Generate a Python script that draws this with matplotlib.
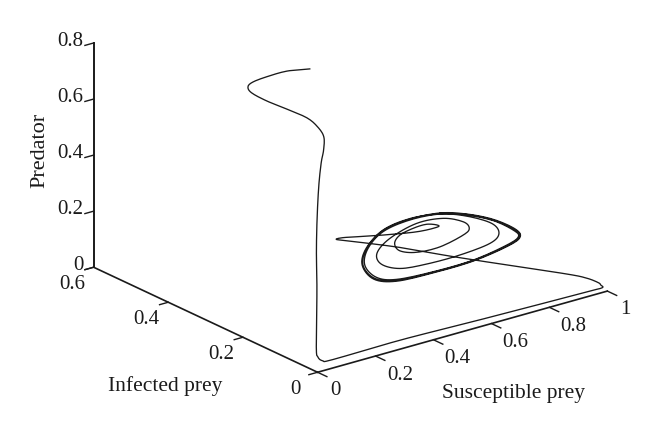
import numpy as np
import matplotlib
matplotlib.use('Agg')
import matplotlib.pyplot as plt
from mpl_toolkits.mplot3d import Axes3D, proj3d

plt.rcParams['font.family'] = ['Liberation Serif', 'DejaVu Serif']

# trajectory
susceptible = [.50, .43, .36, .31, .27, .25, .24, .22, .20, .17, .14, .12, .10, .08, .06, .045, .03, .015, .01,
               .018, .053, .284, .5145, .745, .93, .982, .9775, .969, .930, .861, .630, .457, .284, .1107, .065,
               .0865, .145, .226, .3415,
               .411, .414, .376, .330, .284, .266, .284, .3415, .422, .503, .5235, .503, .4336, .3415, .249, .205,
               .220, .284, .376, .491, .595, .626, .601, .5145, .422, .318, .226, .174, .163, .203, .272, .399,
               .537, .653, .693, .676, .607, .5145, .422, .318, .226, .168, .154, .194, .272, .399, .537, .657,
               .699, .682, .607, .5145, .422, .318, .226, .170, .157, .197, .272, .399, .537, .655, .697, .680,
               .607, .5145, .422]
infected = [.409, .416, .416, .414, .396, .371, .323, .254, .184, .132, .092, .077, .068, .059, .048, .038, .025,
            .015, .007] + [0] * (len(susceptible) - 19)
predator = [.682, .690, .690, .687, .693, .693, .697, .717, .735, .744, .742, .710, .675, .602, .495, .388, .269,
            .077, .0475, .036, .030, .032, .026, .021, .018, .017, .028, .039, .066, .101, .204, .282, .363, .436,
            .455, .455, .442, .424,
            .402, .398, .405, .419, .418, .407, .3825, .351, .329, .325, .344, .362, .391, .4235, .432, .405, .365,
            .322, .288, .277, .276, .2875, .314, .357, .408, .442, .451, .436, .391, .335, .280, .2525, .243, .2446,
            .2646, .283, .311, .365, .412, .443, .456, .442, .394, .3375, .276, .246, .239, .241, .26, .28, .3136,
            .3695, .4155, .446, .454, .440, .392, .336, .278, .249, .241, .243, .262, .282, .312, .367, .414, .445]

s_ticks = [0, .2, .4, .6, .8, 1]
i_ticks = [0, .2, .4, .6]
p_ticks = [0, .2, .4, .6, .8]
s_labels = ['0', '0.2', '0.4', '0.6', '0.8', '1']
i_labels = ['0', '0.2', '0.4', '0.6']
p_labels = ['0', '0.2', '0.4', '0.6', '0.8']

ink = '#1a1a1a'
fs = 15


def smooth(v, n=8):
    # catmull-rom through the read points, only so the line is not drawn with corners
    v = np.asarray(v, dtype=float)
    p = np.concatenate(([v[0]], v, [v[-1]]))
    t = np.linspace(0, 1, n, endpoint=False)[:, None]
    a, b, c, d = p[:-3], p[1:-2], p[2:-1], p[3:]
    out = .5 * (2 * b + (c - a) * t + (2 * a - 5 * b + 4 * c - d) * t ** 2 + (3 * b - a - 3 * c + d) * t ** 3)
    return np.append(out.T.ravel(), v[-1])


fig = plt.figure(figsize=(6.6, 4.36), dpi=100)
size = 560.
ax = fig.add_axes([(350.5 - 7.6 - size / 2) / 660, (436 - 167 - 7.6 - size / 2) / 436, size / 660, size / 436],
                  projection='3d', proj_type='ortho')
ax.set_xlim(0, 1, view_margin=0)
ax.set_ylim(0, .6, view_margin=0)
ax.set_zlim(0, .8, view_margin=0)
ax.set_box_aspect((1, 1, .657), zoom=.99)
ax.view_init(elev=21.25, azim=-127.7)
ax.set_xticks([])
ax.set_yticks([])
ax.set_zticks([])
ax.set_axis_off()
ax.patch.set_visible(False)


def label(x, y, z, s, ha='center'):
    # project by hand so the label is a plain 2d text at its real place
    px, py, _ = proj3d.proj_transform(x, y, z, ax.get_proj())
    ax.text2D(px, py, s, transform=ax.transData, fontsize=fs, color=ink, ha=ha, va='center', clip_on=False)


ax.plot(smooth(susceptible), smooth(infected), smooth(predator), color=ink, lw=.95, clip_on=False)

# axes lines
ax.plot([0, 1], [0, 0], [0, 0], color=ink, lw=1.2, clip_on=False)
ax.plot([0, 0], [0, .6], [0, 0], color=ink, lw=1.2, clip_on=False)
ax.plot([0, 0], [.6, .6], [0, .8], color=ink, lw=1.4, clip_on=False)

for v, lab in zip(s_ticks, s_labels):
    ax.plot([v, v], [0, -.025], [0, 0], color=ink, lw=1.0, clip_on=False)
    if lab in ('0', '1'):
        label(v, -.047, -.0375, lab)  # single digits sit closer in
    else:
        label(v, -.065, -.0275, lab)
for v, lab in zip(i_ticks, i_labels):
    ax.plot([0, -.03], [v, v], [0, 0], color=ink, lw=1.0, clip_on=False)
    label(-.075, v, -.04, lab)
for v, lab in zip(p_ticks, p_labels):
    ax.plot([0, -.03], [.6, .6], [v, v], color=ink, lw=1.0, clip_on=False)
    label(-.035, .6, v + .015, lab, ha='right')

fig.text(40 / 660, 1 - 150 / 436, 'Predator', rotation=90, fontsize=16, color=ink, ha='center', va='center')
fig.text(165.5 / 660, 1 - 386 / 436, 'Infected prey', fontsize=15.5, color=ink, ha='center', va='center')
fig.text(514 / 660, 1 - 393 / 436, 'Susceptible prey', fontsize=15.5, color=ink, ha='center', va='center')

fig.savefig('out.png', dpi=100)
